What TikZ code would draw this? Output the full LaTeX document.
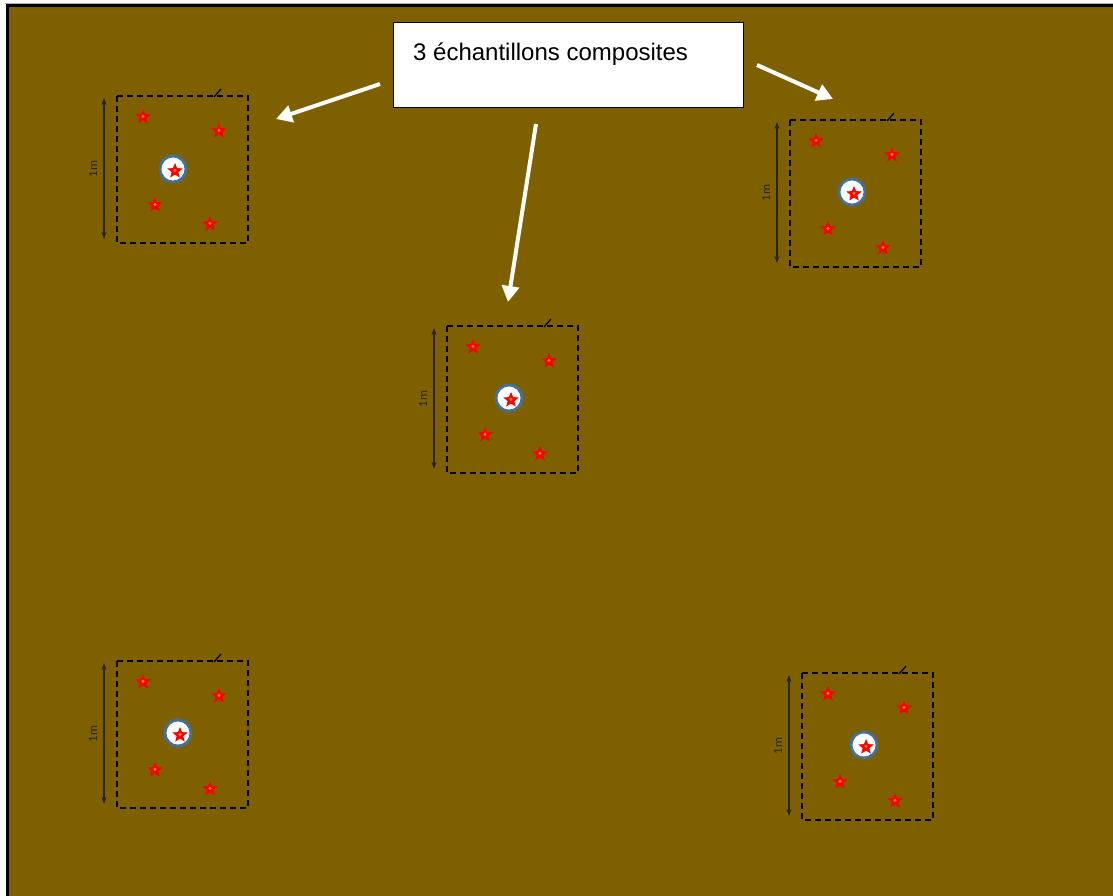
\documentclass[tikz,border=0pt]{standalone}
\usepackage{fontspec}
\setmainfont{Liberation Sans}
\newfontfamily\labelfont{Carlito}
\usetikzlibrary{arrows.meta,shapes.geometric}
\definecolor{soil}{RGB}{127,96,0}
\definecolor{holeblue}{RGB}{65,113,156}
\definecolor{starcore}{RGB}{240,130,20}
\tikzset{
  plotedge/.style={draw=black, line width=2pt, dash pattern=on 6pt off 4pt},
  dimarrow/.style={draw=black!85, line width=1.1pt, {Stealth[length=7pt,width=5pt]}-{Stealth[length=7pt,width=5pt]}},
  dimlabel/.style={font=\labelfont\fontsize{12.5}{13}\selectfont, text=black!85, rotate=90, inner sep=0pt},
  tickmark/.style={draw=black, line width=1.3pt},
  starmark/.style={star, star points=5, star point ratio=2.3, minimum size=14pt, inner sep=0pt,
     draw=red, line width=0.8pt, fill=red,
     path picture={\fill[starcore] (path picture bounding box.center) circle (1.7pt);}},
  hole/.style={circle, minimum size=26pt, inner sep=0pt, fill=white, draw=holeblue, line width=2.8pt},
  callout/.style={draw=black, line width=1pt, fill=white},
  pointer/.style={draw=white, line width=4pt, -{Triangle[width=17pt,length=16pt]}}
}
\newcommand\quadrat[5]{%
  \begin{scope}[shift={(#2,#3)}]
    \draw[plotedge] (0,0) rectangle (131,147);
    \coordinate (#1dt) at (-13,2);
    \coordinate (#1db) at (-13,143);
    \draw[dimarrow] (#1dt) -- (#1db);
    \node[dimlabel] (#1lab) at (-24,73) {1m};
    \coordinate (#1ta) at (97,1);
    \coordinate (#1tb) at (104,-7);
    \draw[tickmark] (#1ta) -- (#1tb);
    \node[starmark] (#1s1) at (26,21) {};
    \node[starmark] (#1s2) at (102,35) {};
    \node[starmark] (#1s3) at (38,109) {};
    \node[starmark] (#1s4) at (93,128) {};
    \node[hole] (#1c) at (#4,#5) {};
    \node[starmark] (#1cs) at ([xshift=2pt,yshift=-2pt]#1c.center) {};
  \end{scope}}
\begin{document}
\begin{tikzpicture}[x=1pt,y=-1pt]
  \useasboundingbox (0,0) rectangle (1113,895);
  \fill[white] (0,0) rectangle (1113,895);
  \draw[gray!60, line width=1pt] (5,3.5) -- (1120,3.5);
  \fill[soil] (6,4) rectangle (1125,905);
  \draw[black, line width=3pt] (7.5,905) -- (7.5,5.5) -- (1125,5.5);

  \quadrat{p1}{117}{96}{56}{73}
  \quadrat{p2}{790}{120}{62}{72}
  \quadrat{p3}{447}{326}{62}{72}
  \quadrat{p4}{117}{661}{61}{72}
  \quadrat{p5}{802}{673}{62}{72}

  \node[callout, minimum width=350pt, minimum height=85pt, anchor=north west] (box) at (393,22) {};
  \node[anchor=base west, inner sep=0pt, font=\fontsize{24}{28}\selectfont] (title) at (413,60) {3 échantillons composites};

  \coordinate (a1s) at (380,84);
  \coordinate (a1e) at (276,119);
  \coordinate (a2s) at (757,65);
  \coordinate (a2e) at (833,99);
  \coordinate (a3s) at (536,124);
  \coordinate (a3e) at (508,302);
  \draw[pointer] (a1s) -- (a1e);
  \draw[pointer] (a2s) -- (a2e);
  \draw[pointer] (a3s) -- (a3e);
\end{tikzpicture}
\end{document}
